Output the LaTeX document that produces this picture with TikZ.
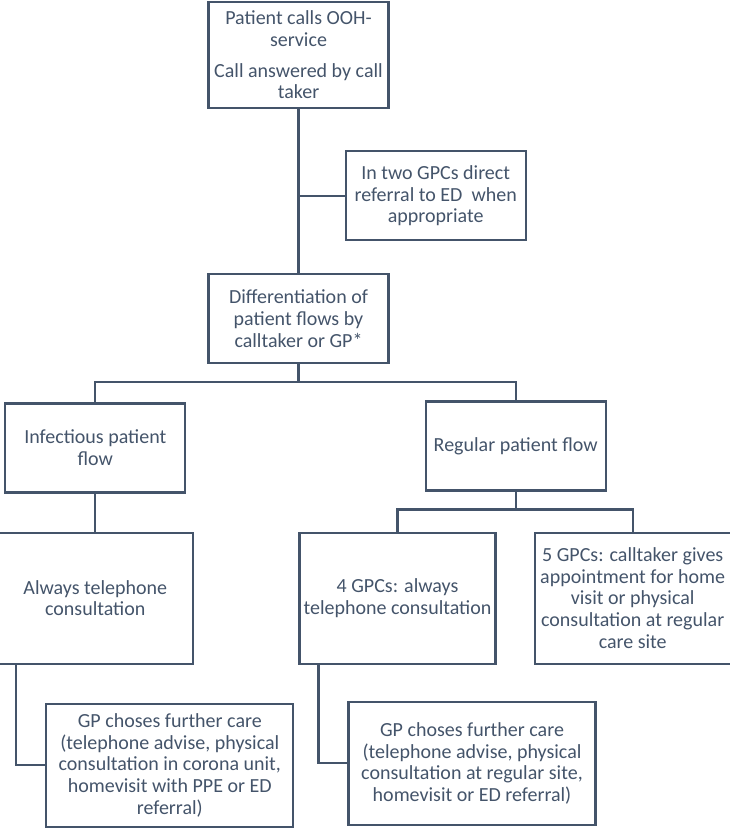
\documentclass[tikz,border=0pt]{standalone}
\usepackage{fontspec}
\setmainfont{Carlito}
\usepackage{xcolor}
\usepackage{tikz}
\usetikzlibrary{positioning}
\definecolor{oohBlue}{RGB}{68, 84, 106}

\begin{document}
\begin{tikzpicture}[
    x=1pt, y=-1pt,
    node distance=40pt and 40pt,
    box/.style={draw=oohBlue, line width=2.2pt, text=oohBlue, align=center, inner sep=2pt, minimum width=180pt, minimum height=89pt, font=\fontsize{20}{21.7}\selectfont},
    wide/.style={box, minimum width=196pt, minimum height=131pt},
    care/.style={box, minimum width=247pt, minimum height=123pt},
    link/.style={draw=oohBlue, line width=2.2pt}
]
    \useasboundingbox (0,0) rectangle (729,828);

    \node[box, minimum height=106pt] (call) at (298.5,55) {Patient calls OOH-\\service\\[9pt]Call answered by call\\taker};
    \node[box, below right=41pt and -45pt of call] (direct) {In two GPCs direct\\referral to ED\ \ when\\appropriate};
    \node[box, below=164pt of call] (diff) {Differentiation of\\patient flows by\\calltaker or GP*};

    \node[box, below left=38pt and 21pt of diff] (infect) {Infectious patient\\flow};
    \node[box, below right=36pt and 35pt of diff] (regular) {Regular patient flow};

    \node[wide, below=38pt of infect] (inftel) {Always telephone\\consultation};
    \node[wide, right=104pt of inftel] (regtel) {4 GPCs: always\\telephone consultation};
    \node[wide, right=37pt of regtel] (appoint) {5 GPCs: calltaker gives\\appointment for home\\visit or physical\\consultation at regular\\care site};

    \node[care, below right=38pt and 49pt of inftel.south west, anchor=north west] (infcare) {GP choses further care\\(telephone advise, physical\\consultation in corona unit,\\homevisit with PPE or ED\\referral)};
    \node[care, below right=36pt and 49pt of regtel.south west, anchor=north west] (regcare) {GP choses further care\\(telephone advise, physical\\consultation at regular site,\\homevisit or ED referral)};

    \draw[link] (call) -- (diff);
    \draw[link] (call.south |- direct.west) -- (direct.west);

    \draw[link] (diff.south) -- ++(0,18) -| (infect.north);
    \draw[link] (diff.south) -- ++(0,18) -| (regular.north);
    \draw[link] (infect) -- (inftel);

    \draw[link] (regular.south) -- ++(0,18) -| (regtel.north);
    \draw[link] (regular.south) -- ++(0,18) -| (appoint.north);

    \draw[link] ([xshift=20pt]inftel.south west) |- (infcare.west);
    \draw[link] ([xshift=20pt]regtel.south west) |- (regcare.west);
\end{tikzpicture}
\end{document}
